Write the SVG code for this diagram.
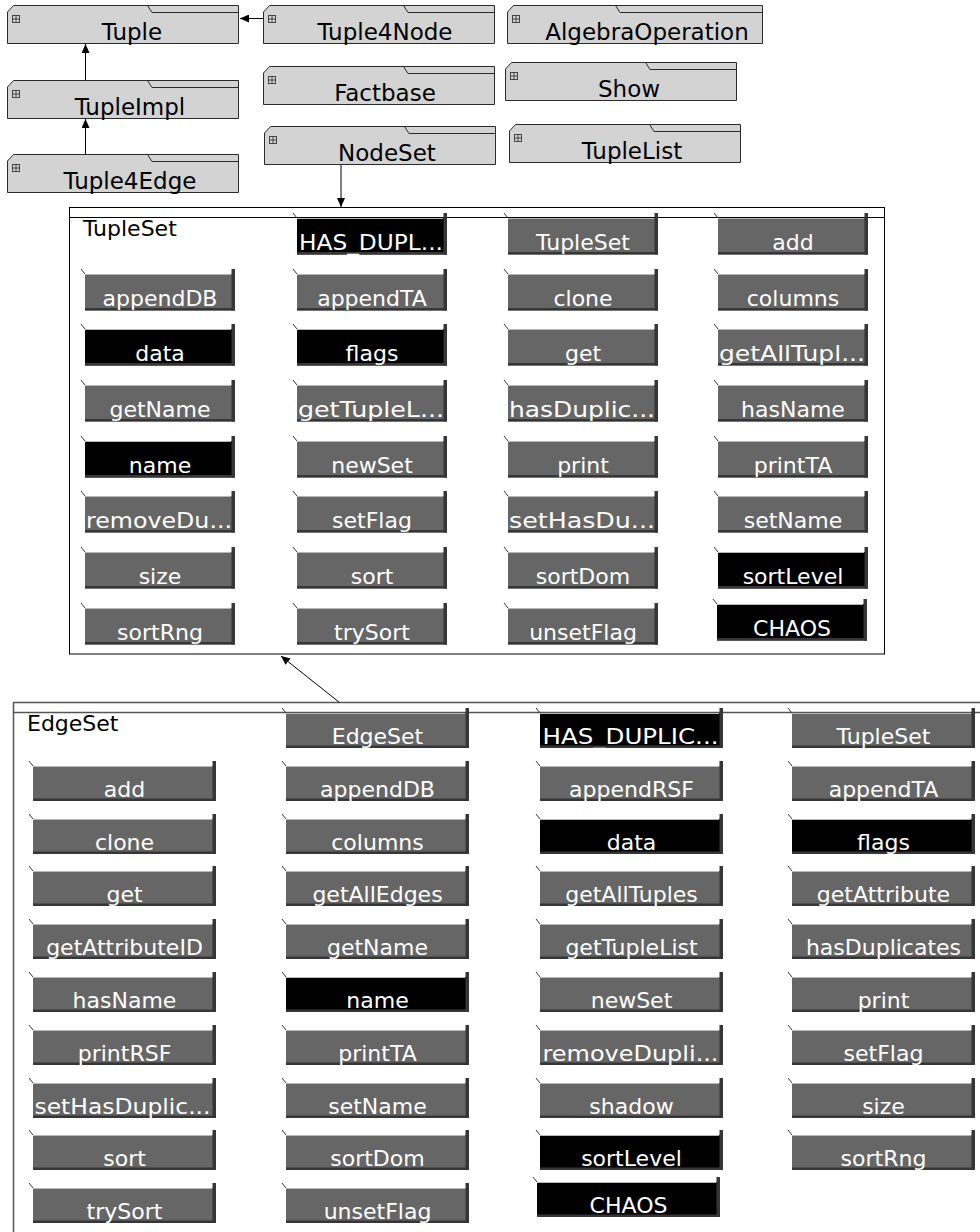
<svg xmlns="http://www.w3.org/2000/svg" xmlns:xlink="http://www.w3.org/1999/xlink" width="980" height="1232" viewBox="0 0 980 1232">
  <style>
    text { font-family: "DejaVu Sans", "Liberation Sans", sans-serif; }
    .pk { font-size: 23px; fill: #000; text-anchor: middle; }
    .lbl { font-size: 22px; fill: #000; }
    .bt { font-size: 22px; fill: #fff; text-anchor: middle; }
    .g { fill: #666666; }
    .k { fill: #000000; }
    .frame { fill: #fff; stroke: #000; stroke-width: 1; }
    .frame2 { fill: #fff; stroke: #555; stroke-width: 1.5; }
    .conn { stroke: #000; stroke-width: 1; fill: none; marker-end: url(#ah); }
  </style>
  <defs>
    <marker id="ah" markerWidth="9" markerHeight="8" refX="9" refY="4" orient="auto" markerUnits="userSpaceOnUse">
      <path d="M0,0 L9,4 L0,8 Z" fill="#000"/>
    </marker>
    <!-- package box 231 x 38 -->
    <g id="pkg">
      <path d="M6.5,0.5 H231.5 V38.5 H0.5 V7 Z" fill="#d3d3d3" stroke="#2a2a2a"/>
      <path d="M140.5,0.5 L145,7.5 H231.5" fill="none" stroke="#2a2a2a"/>
      <rect x="5.5" y="10.5" width="7" height="7" fill="none" stroke="#444"/>
      <path d="M9,10.5 V17.5 M5.5,14 H12.5" stroke="#444"/>
    </g>
    <!-- operation button, TupleSet size -->
    <g id="bt">
      <rect width="150" height="36.5"/>
      <path d="M0,0.5 H146" stroke="#b8b8b8" fill="none"/>
      <rect x="146.5" y="-5" width="3.5" height="41.5" fill="#363636"/>
      <rect y="34" width="150" height="2.5" fill="#363636"/>
      <path d="M-4,-5 L0,0" stroke="#333" fill="none"/>
    </g>
    <!-- operation button, EdgeSet size -->
    <g id="be">
      <rect width="183" height="35"/>
      <path d="M0,0.5 H179" stroke="#b8b8b8" fill="none"/>
      <rect x="179.5" y="-5" width="3.5" height="40" fill="#363636"/>
      <rect y="32.5" width="183" height="2.5" fill="#363636"/>
      <path d="M-4,-5 L0,0" stroke="#333" fill="none"/>
    </g>
  </defs>

  <rect width="980" height="1232" fill="#fff"/>

  <!-- package nodes -->
  <g id="Tuple"><use xlink:href="#pkg" x="7" y="5"/><text class="pk" x="132" y="39.5">Tuple</text></g>
  <g id="TupleImpl"><use xlink:href="#pkg" x="7" y="80"/><text class="pk" x="130" y="114.5">TupleImpl</text></g>
  <g id="Tuple4Edge"><use xlink:href="#pkg" x="7" y="154"/><text class="pk" x="130" y="188.5">Tuple4Edge</text></g>
  <g id="Tuple4Node"><use xlink:href="#pkg" x="263" y="5"/><text class="pk" x="385" y="39.5">Tuple4Node</text></g>
  <g id="Factbase"><use xlink:href="#pkg" x="263" y="66"/><text class="pk" x="385" y="100.5">Factbase</text></g>
  <g id="NodeSet"><use xlink:href="#pkg" x="264" y="126"/><text class="pk" x="387" y="160.5">NodeSet</text></g>
  <g id="AlgebraOperation">
    <path d="M513.5,5.5 H762.5 V43.5 H507.5 V12 Z" fill="#d3d3d3" stroke="#2a2a2a"/>
    <path d="M615.5,5.5 L620,12.5 H762.5" fill="none" stroke="#2a2a2a"/>
    <rect x="512.5" y="15.5" width="7" height="7" fill="none" stroke="#444"/>
    <path d="M516,15.5 V22.5 M512.5,19 H519.5" stroke="#444"/>
    <text class="pk" x="647" y="39.5">AlgebraOperation</text>
  </g>
  <g id="Show"><use xlink:href="#pkg" x="505" y="62"/><text class="pk" x="629" y="96.5">Show</text></g>
  <g id="TupleList"><use xlink:href="#pkg" x="509" y="124"/><text class="pk" x="632" y="158.5">TupleList</text></g>

  <!-- TupleSet class with its operations -->
  <g id="TupleSet">
    <rect class="frame" x="69.5" y="207.5" width="815" height="446.5"/>
    <path d="M69.5,217.5 H884.5" stroke="#000" fill="none"/>
    <text class="lbl" x="83" y="236">TupleSet</text>
    <g id="ts-HAS_DUPL"><use xlink:href="#bt" class="k" x="297" y="218"/><text class="bt" x="371" y="250" textLength="144" lengthAdjust="spacingAndGlyphs">HAS_DUPL...</text></g>
    <g id="ts-TupleSet"><use xlink:href="#bt" class="g" x="508" y="218"/><text class="bt" x="583" y="250">TupleSet</text></g>
    <g id="ts-add"><use xlink:href="#bt" class="g" x="718" y="218"/><text class="bt" x="793" y="250">add</text></g>

    <g id="ts-appendDB"><use xlink:href="#bt" class="g" x="85" y="274"/><text class="bt" x="160" y="306">appendDB</text></g>
    <g id="ts-appendTA"><use xlink:href="#bt" class="g" x="297" y="274"/><text class="bt" x="372" y="306">appendTA</text></g>
    <g id="ts-clone"><use xlink:href="#bt" class="g" x="508" y="274"/><text class="bt" x="583" y="306">clone</text></g>
    <g id="ts-columns"><use xlink:href="#bt" class="g" x="718" y="274"/><text class="bt" x="793" y="306">columns</text></g>

    <g id="ts-data"><use xlink:href="#bt" class="k" x="85" y="329"/><text class="bt" x="160" y="361">data</text></g>
    <g id="ts-flags"><use xlink:href="#bt" class="k" x="297" y="329"/><text class="bt" x="372" y="361">flags</text></g>
    <g id="ts-get"><use xlink:href="#bt" class="g" x="508" y="329"/><text class="bt" x="583" y="361">get</text></g>
    <g id="ts-getAllTupl"><use xlink:href="#bt" class="g" x="718" y="329"/><text class="bt" x="792" y="361" textLength="146" lengthAdjust="spacingAndGlyphs">getAllTupl...</text></g>

    <g id="ts-getName"><use xlink:href="#bt" class="g" x="85" y="385"/><text class="bt" x="160" y="417">getName</text></g>
    <g id="ts-getTupleL"><use xlink:href="#bt" class="g" x="297" y="385"/><text class="bt" x="371" y="417" textLength="146" lengthAdjust="spacingAndGlyphs">getTupleL...</text></g>
    <g id="ts-hasDuplic"><use xlink:href="#bt" class="g" x="508" y="385"/><text class="bt" x="582" y="417" textLength="146" lengthAdjust="spacingAndGlyphs">hasDuplic...</text></g>
    <g id="ts-hasName"><use xlink:href="#bt" class="g" x="718" y="385"/><text class="bt" x="793" y="417">hasName</text></g>

    <g id="ts-name"><use xlink:href="#bt" class="k" x="85" y="441"/><text class="bt" x="160" y="473">name</text></g>
    <g id="ts-newSet"><use xlink:href="#bt" class="g" x="297" y="441"/><text class="bt" x="372" y="473">newSet</text></g>
    <g id="ts-print"><use xlink:href="#bt" class="g" x="508" y="441"/><text class="bt" x="583" y="473">print</text></g>
    <g id="ts-printTA"><use xlink:href="#bt" class="g" x="718" y="441"/><text class="bt" x="793" y="473">printTA</text></g>

    <g id="ts-removeDu"><use xlink:href="#bt" class="g" x="85" y="496"/><text class="bt" x="159" y="528" textLength="146" lengthAdjust="spacingAndGlyphs">removeDu...</text></g>
    <g id="ts-setFlag"><use xlink:href="#bt" class="g" x="297" y="496"/><text class="bt" x="372" y="528">setFlag</text></g>
    <g id="ts-setHasDu"><use xlink:href="#bt" class="g" x="508" y="496"/><text class="bt" x="582" y="528" textLength="146" lengthAdjust="spacingAndGlyphs">setHasDu...</text></g>
    <g id="ts-setName"><use xlink:href="#bt" class="g" x="718" y="496"/><text class="bt" x="793" y="528">setName</text></g>

    <g id="ts-size"><use xlink:href="#bt" class="g" x="85" y="552"/><text class="bt" x="160" y="584">size</text></g>
    <g id="ts-sort"><use xlink:href="#bt" class="g" x="297" y="552"/><text class="bt" x="372" y="584">sort</text></g>
    <g id="ts-sortDom"><use xlink:href="#bt" class="g" x="508" y="552"/><text class="bt" x="583" y="584">sortDom</text></g>
    <g id="ts-sortLevel"><use xlink:href="#bt" class="k" x="718" y="552"/><text class="bt" x="793" y="584">sortLevel</text></g>

    <g id="ts-sortRng"><use xlink:href="#bt" class="g" x="85" y="608"/><text class="bt" x="160" y="640">sortRng</text></g>
    <g id="ts-trySort"><use xlink:href="#bt" class="g" x="297" y="608"/><text class="bt" x="372" y="640">trySort</text></g>
    <g id="ts-unsetFlag"><use xlink:href="#bt" class="g" x="508" y="608"/><text class="bt" x="583" y="640">unsetFlag</text></g>
    <g id="ts-CHAOS"><use xlink:href="#bt" class="k" x="717" y="604"/><text class="bt" x="792" y="636">CHAOS</text></g>
  </g>

  <!-- EdgeSet class with its operations -->
  <g id="EdgeSet">
    <path class="frame2" d="M13.5,1240 V702.5 H990"/>
    <path d="M13.5,712.5 H990" stroke="#555" stroke-width="1.5" fill="none"/>
    <text class="lbl" x="27" y="731">EdgeSet</text>
    <g id="es-EdgeSet"><use xlink:href="#be" class="g" x="286" y="713"/><text class="bt" x="377.5" y="744">EdgeSet</text></g>
    <g id="es-HAS_DUPLIC"><use xlink:href="#be" class="k" x="540" y="713"/><text class="bt" x="630.5" y="744" textLength="176" lengthAdjust="spacingAndGlyphs">HAS_DUPLIC...</text></g>
    <g id="es-TupleSet"><use xlink:href="#be" class="g" x="792" y="713"/><text class="bt" x="883.5" y="744">TupleSet</text></g>

    <g id="es-add"><use xlink:href="#be" class="g" x="33" y="766"/><text class="bt" x="124.5" y="797">add</text></g>
    <g id="es-appendDB"><use xlink:href="#be" class="g" x="286" y="766"/><text class="bt" x="377.5" y="797">appendDB</text></g>
    <g id="es-appendRSF"><use xlink:href="#be" class="g" x="540" y="766"/><text class="bt" x="631.5" y="797">appendRSF</text></g>
    <g id="es-appendTA"><use xlink:href="#be" class="g" x="792" y="766"/><text class="bt" x="883.5" y="797">appendTA</text></g>

    <g id="es-clone"><use xlink:href="#be" class="g" x="33" y="819"/><text class="bt" x="124.5" y="850">clone</text></g>
    <g id="es-columns"><use xlink:href="#be" class="g" x="286" y="819"/><text class="bt" x="377.5" y="850">columns</text></g>
    <g id="es-data"><use xlink:href="#be" class="k" x="540" y="819"/><text class="bt" x="631.5" y="850">data</text></g>
    <g id="es-flags"><use xlink:href="#be" class="k" x="792" y="819"/><text class="bt" x="883.5" y="850">flags</text></g>

    <g id="es-get"><use xlink:href="#be" class="g" x="33" y="871"/><text class="bt" x="124.5" y="902">get</text></g>
    <g id="es-getAllEdges"><use xlink:href="#be" class="g" x="286" y="871"/><text class="bt" x="377.5" y="902">getAllEdges</text></g>
    <g id="es-getAllTuples"><use xlink:href="#be" class="g" x="540" y="871"/><text class="bt" x="631.5" y="902">getAllTuples</text></g>
    <g id="es-getAttribute"><use xlink:href="#be" class="g" x="792" y="871"/><text class="bt" x="883.5" y="902">getAttribute</text></g>

    <g id="es-getAttributeID"><use xlink:href="#be" class="g" x="33" y="924"/><text class="bt" x="124.5" y="955">getAttributeID</text></g>
    <g id="es-getName"><use xlink:href="#be" class="g" x="286" y="924"/><text class="bt" x="377.5" y="955">getName</text></g>
    <g id="es-getTupleList"><use xlink:href="#be" class="g" x="540" y="924"/><text class="bt" x="631.5" y="955">getTupleList</text></g>
    <g id="es-hasDuplicates"><use xlink:href="#be" class="g" x="792" y="924"/><text class="bt" x="883.5" y="955">hasDuplicates</text></g>

    <g id="es-hasName"><use xlink:href="#be" class="g" x="33" y="977"/><text class="bt" x="124.5" y="1008">hasName</text></g>
    <g id="es-name"><use xlink:href="#be" class="k" x="286" y="977"/><text class="bt" x="377.5" y="1008">name</text></g>
    <g id="es-newSet"><use xlink:href="#be" class="g" x="540" y="977"/><text class="bt" x="631.5" y="1008">newSet</text></g>
    <g id="es-print"><use xlink:href="#be" class="g" x="792" y="977"/><text class="bt" x="883.5" y="1008">print</text></g>

    <g id="es-printRSF"><use xlink:href="#be" class="g" x="33" y="1030"/><text class="bt" x="124.5" y="1061">printRSF</text></g>
    <g id="es-printTA"><use xlink:href="#be" class="g" x="286" y="1030"/><text class="bt" x="377.5" y="1061">printTA</text></g>
    <g id="es-removeDupli"><use xlink:href="#be" class="g" x="540" y="1030"/><text class="bt" x="630.5" y="1061" textLength="176" lengthAdjust="spacingAndGlyphs">removeDupli...</text></g>
    <g id="es-setFlag"><use xlink:href="#be" class="g" x="792" y="1030"/><text class="bt" x="883.5" y="1061">setFlag</text></g>

    <g id="es-setHasDuplic"><use xlink:href="#be" class="g" x="33" y="1083"/><text class="bt" x="122.5" y="1114" textLength="176" lengthAdjust="spacingAndGlyphs">setHasDuplic...</text></g>
    <g id="es-setName"><use xlink:href="#be" class="g" x="286" y="1083"/><text class="bt" x="377.5" y="1114">setName</text></g>
    <g id="es-shadow"><use xlink:href="#be" class="g" x="540" y="1083"/><text class="bt" x="631.5" y="1114">shadow</text></g>
    <g id="es-size"><use xlink:href="#be" class="g" x="792" y="1083"/><text class="bt" x="883.5" y="1114">size</text></g>

    <g id="es-sort"><use xlink:href="#be" class="g" x="33" y="1135"/><text class="bt" x="124.5" y="1166">sort</text></g>
    <g id="es-sortDom"><use xlink:href="#be" class="g" x="286" y="1135"/><text class="bt" x="377.5" y="1166">sortDom</text></g>
    <g id="es-sortLevel"><use xlink:href="#be" class="k" x="540" y="1135"/><text class="bt" x="631.5" y="1166">sortLevel</text></g>
    <g id="es-sortRng"><use xlink:href="#be" class="g" x="792" y="1135"/><text class="bt" x="883.5" y="1166">sortRng</text></g>

    <g id="es-trySort"><use xlink:href="#be" class="g" x="33" y="1188"/><text class="bt" x="124.5" y="1219">trySort</text></g>
    <g id="es-unsetFlag"><use xlink:href="#be" class="g" x="286" y="1188"/><text class="bt" x="377.5" y="1219">unsetFlag</text></g>
    <g id="es-CHAOS"><use xlink:href="#be" class="k" x="537" y="1182"/><text class="bt" x="628.5" y="1213">CHAOS</text></g>
  </g>

  <!-- connectors -->
  <g id="connectors">
    <path class="conn" d="M263,18.5 H240"/>
    <path class="conn" d="M85.5,80 V44"/>
    <path class="conn" d="M85.5,154 V119"/>
    <path class="conn" d="M341,165 V207"/>
    <path class="conn" d="M339.5,702.5 L281,656"/>
  </g>
</svg>
